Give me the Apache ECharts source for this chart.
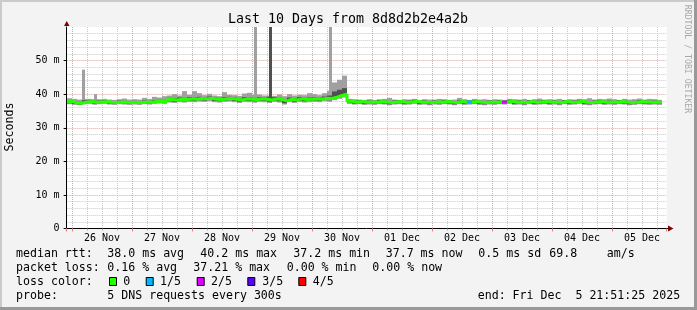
<!DOCTYPE html>
<html><head><meta charset="utf-8">
<script src="https://cdn.jsdelivr.net/npm/echarts@6/dist/echarts.min.js"></script>
<style>html,body{margin:0;padding:0;background:#f3f3f3}#c{width:697px;height:310px}</style>
</head><body><div id="c"></div>
<script>
// ---- axes (hours from 26 Nov 00:00) ----
const xStartHour = -2.15;   // Nov 25 21:51
const xEndHour = 237.85;    // Dec 5 21:51
const binStartHour = -2;    // first data bin (2 h bins)
const binHours = 2;
const dayLabels = ['26 Nov','27 Nov','28 Nov','29 Nov','30 Nov','01 Dec','02 Dec','03 Dec','04 Dec','05 Dec'];
const yMax = 60;
const yLabelStep = 10;

// ---- median rtt (ms), one value per 2 h bin ----
const median = [
  37.8,
  37.4,37.3,37.7,37.8,37.6,37.7,37.8,37.6,37.5,37.7,37.6,37.5,
  37.6,37.5,37.7,37.6,37.8,37.9,37.8,38.4,38.3,38.5,38.4,38.6,
  38.5,38.7,38.6,38.8,38.5,38.4,38.6,38.7,38.5,38.3,38.6,38.5,
  38.4,38.6,38.5,38.3,38.6,38.4,38.0,38.5,38.3,38.6,38.4,38.5,
  38.6,38.5,38.8,38.7,39.1,39.6,40.0,37.9,37.7,37.8,37.6,37.7,
  37.6,37.8,37.7,37.5,37.7,37.8,37.6,37.7,37.9,37.6,37.7,37.5,
  37.7,37.6,37.8,37.7,37.5,37.8,37.6,37.7,37.8,37.6,37.5,37.7,
  37.6,37.8,37.7,37.9,37.6,37.7,37.5,37.8,37.6,37.7,37.8,37.6,
  37.7,37.5,37.8,37.6,37.7,37.9,37.6,37.5,37.7,37.8,37.6,37.7,
  37.6,37.8,37.7,37.5,37.6,37.8,37.7,37.6,37.7,37.6
];
// ---- smoke: min of pings ----
const smokeLo = [
  37.0,
  36.9,36.8,37.0,37.1,36.9,37.0,37.1,36.9,36.8,37.0,36.9,36.8,
  36.9,36.8,37.0,36.9,37.1,37.2,37.1,37.5,37.4,37.6,37.5,37.7,
  37.6,37.8,37.7,37.9,37.6,37.5,37.7,37.8,37.6,37.4,37.7,37.6,
  37.5,37.7,37.6,37.4,37.7,37.5,36.9,37.6,37.4,37.7,37.5,37.6,
  37.7,37.6,37.9,37.8,38.2,38.6,39.0,37.1,36.9,37.0,36.8,36.9,
  36.8,37.0,36.9,36.7,36.9,37.0,36.8,36.9,37.1,36.8,36.9,36.7,
  36.9,36.8,37.0,36.9,36.7,37.0,36.8,36.9,37.0,36.8,36.7,36.9,
  36.8,37.0,36.9,37.1,36.8,36.9,36.7,37.0,36.8,36.9,37.0,36.8,
  36.9,36.7,37.0,36.8,36.9,37.1,36.8,36.7,36.9,37.0,36.8,36.9,
  36.8,37.0,36.9,36.7,36.8,37.0,36.9,36.8,36.9,36.8
];
// ---- smoke: 2nd lowest ping ----
const smokeInnerLo = [
  37.3,
  37.0,36.9,37.3,37.4,37.2,37.3,37.4,37.2,37.1,37.3,37.2,37.1,
  37.2,37.1,37.3,37.2,37.4,37.5,37.4,37.9,37.8,38.0,37.9,38.1,
  38.0,38.2,38.1,38.3,38.0,37.9,38.1,38.2,38.0,37.8,38.1,38.0,
  37.9,38.1,38.0,37.8,38.1,37.9,37.3,38.0,37.8,38.1,37.9,38.0,
  38.1,38.0,38.3,38.2,38.6,39.1,39.5,37.4,37.2,37.3,37.1,37.2,
  37.1,37.3,37.2,37.0,37.2,37.3,37.1,37.2,37.4,37.1,37.2,37.0,
  37.2,37.1,37.3,37.2,37.0,37.3,37.1,37.2,37.3,37.1,37.0,37.2,
  37.1,37.3,37.2,37.4,37.1,37.2,37.0,37.3,37.1,37.2,37.3,37.1,
  37.2,37.0,37.3,37.1,37.2,37.4,37.1,37.0,37.2,37.3,37.1,37.2,
  37.1,37.3,37.2,37.0,37.1,37.3,37.2,37.1,37.2,37.1
];
// ---- smoke: 2nd highest ping ----
const smokeInnerHi = [
  38.2,
  37.8,37.7,38.2,38.2,38.1,38.1,38.2,38.0,37.9,38.1,38.0,37.9,
  38.0,37.9,38.1,38.0,38.2,38.3,38.3,38.9,38.8,39.0,38.9,39.1,
  39.0,39.2,39.1,39.3,39.0,38.9,39.1,39.2,39.0,38.8,39.1,39.0,
  38.9,39.1,39.0,39.2,39.1,38.9,38.5,39.0,38.8,39.1,38.9,39.0,
  39.1,39.0,39.3,39.6,40.8,41.3,41.8,38.3,38.1,38.2,38.0,38.1,
  38.0,38.2,38.1,37.9,38.1,38.2,38.0,38.1,38.3,38.0,38.1,37.9,
  38.1,38.0,38.2,38.1,37.9,38.2,38.0,38.1,38.2,38.0,37.9,38.1,
  38.0,38.2,38.1,38.3,38.0,38.1,37.9,38.2,38.0,38.1,38.2,38.0,
  38.1,37.9,38.2,38.0,38.1,38.3,38.0,37.9,38.1,38.2,38.0,38.1,
  38.0,38.2,38.1,37.9,38.0,38.2,38.1,38.0,38.1,38.0
];
// ---- smoke: max of pings ----
const smokeHi = [
  38.8,
  38.6,38.4,38.6,38.6,38.5,38.5,38.6,38.4,38.3,38.5,38.7,38.4,
  38.5,38.4,38.9,38.6,39.2,39.0,39.4,39.6,40.0,39.6,40.9,39.8,
  40.9,40.3,39.7,40.1,39.6,39.4,40.6,39.8,39.7,39.5,40.2,40.4,
  39.8,39.9,39.6,39.6,39.5,39.9,39.4,40.0,39.6,39.8,39.7,40.3,
  40.0,39.7,40.3,41.0,43.5,44.3,45.5,38.6,38.5,38.4,38.3,38.5,
  38.3,38.5,38.6,38.9,38.4,38.3,38.5,38.4,38.6,38.3,38.5,38.4,
  38.4,38.6,38.5,38.3,38.4,38.9,38.5,38.3,38.6,38.4,38.5,38.3,
  38.5,38.4,38.3,38.6,38.5,38.4,38.6,38.3,38.5,38.7,38.4,38.5,
  38.4,38.6,38.3,38.5,38.4,38.6,38.5,38.8,38.4,38.6,38.5,38.7,
  38.5,38.3,38.6,38.4,38.5,38.7,38.4,38.6,38.5,38.3
];
// ---- short spikes (hour start, top of max ping, top of 2nd highest ping or null) ----
const spikeStartHour = [4, 8.8, 72.8, 78.8, 102.8];
const spikeHours = 1.2;
const spikeTop = [47.3, 40.0, 75, 75, 75];
const spikeInnerTop = [null, null, null, 75, null];

// ---- bins with packet loss (bin index, lost pings of 5) ----
const lossBins = [80, 87];
const lossCounts = [1, 2];

// ---- legend ----
const lossLegendLabels = ['0','1/5','2/5','3/5','4/5'];
const lossLegendColors = ['#26ff00','#00b8ff','#dd00ff','#5e00ff','#ff0000'];
const titleText = 'Last 10 Days from 8d8d2b2e4a2b';
const yName = 'Seconds';
const credit = 'RRDTOOL / TOBI OETIKER';
const rttLine = [['median rtt:',16],['38.0 ms avg',107.3],['40.2 ms max',200.3],['37.2 ms min',293.3],['37.7 ms now',385.7],['0.5 ms sd',478.3],['69.8',549.3],['am/s',606.7]];
const lossLine = [['packet loss:',16],['0.16 % avg',107.3],['37.21 % max',193.3],['0.00 % min',286.7],['0.00 % now',372.3]];
const probeLine = [['probe:',16],['5 DNS requests every 300s',107.3],['end: Fri Dec  5 21:51:25 2025',477.7]];

// ---------- build ----------
function stepData(arr){
  const d = arr.map((v,i)=>[binStartHour + i*binHours, v]);
  d.push([binStartHour + arr.length*binHours, arr[arr.length-1]]);
  return d;
}
const smokeData = smokeLo.map((lo,i)=>[binStartHour + i*binHours, binStartHour + (i+1)*binHours, lo, smokeInnerLo[i], smokeInnerHi[i], smokeHi[i]]);
spikeStartHour.forEach((t,k)=>{
  const b = Math.floor((t - binStartHour)/binHours);
  const ih = spikeInnerTop[k] == null ? smokeInnerHi[b] : spikeInnerTop[k];
  smokeData.push([t, t + spikeHours, smokeLo[b], smokeInnerLo[b], ih, spikeTop[k]]);
});

const MONO = '"DejaVu Sans Mono", monospace';
const SMOKE_OUTER = '#a0a0a0', SMOKE_INNER = '#505050';
function renderSmoke(params, api){
  const cs = params.coordSys;
  const clipR = {x:cs.x, y:cs.y, width:cs.width, height:cs.height};
  const t0 = api.value(0), t1 = api.value(1);
  function band(a, b, color){
    const p0 = api.coord([t0, b]), p1 = api.coord([t1, a]);
    const r = echarts.graphic.clipRectByRect({x:p0[0], y:p0[1], width:p1[0]-p0[0], height:p1[1]-p0[1]}, clipR);
    return r ? {type:'rect', shape:r, style:{fill:color}} : null;
  }
  const kids = [band(api.value(2), api.value(5), SMOKE_OUTER), band(api.value(3), api.value(4), SMOKE_INNER)].filter(Boolean);
  return {type:'group', children:kids};
}
const series = [
  {type:'custom', data:smokeData, renderItem:renderSmoke, encode:{x:[0,1], y:[2,5]}, z:3, silent:true, animation:false},
  {type:'line', step:'end', data: stepData(median), showSymbol:false, symbol:'none',
   lineStyle:{color:lossLegendColors[0], width:3}, z:5, animation:false, silent:true}
];
lossBins.forEach((b,k)=>{
  const t = binStartHour + b*binHours;
  series.push({type:'line', data:[[t, median[b]],[t+binHours, median[b]]], showSymbol:false, symbol:'none',
    lineStyle:{color:lossLegendColors[lossCounts[k]], width:3}, z:6, animation:false, silent:true});
});

const minorGrid = {show:true, lineStyle:{color:'#c8c8c8', width:1, type:[1,1]}, showMinLine:false, showMaxLine:false};
const majorGrid = {show:true, lineStyle:{color:'#e9a0a0', width:1, type:[1,1]}, showMinLine:false, showMaxLine:false};

const graphic = [
  {type:'rect', shape:{x:0,y:0,width:697,height:2}, style:{fill:'#cbcbcb'}, z:-9},
  {type:'rect', shape:{x:0,y:0,width:2,height:310}, style:{fill:'#cbcbcb'}, z:-9},
  {type:'rect', shape:{x:0,y:307,width:697,height:3}, style:{fill:'#999999'}, z:-9},
  {type:'rect', shape:{x:694,y:0,width:3,height:310}, style:{fill:'#999999'}, z:-9},
  {type:'polygon', shape:{points:[[64,26],[69.5,26],[66.75,21]]}, style:{fill:'#800000'}, z:20},
  {type:'polygon', shape:{points:[[668,225.5],[668,231.5],[673.5,228.5]]}, style:{fill:'#800000'}, z:20},
  {type:'line', shape:{x1:666.5,y1:228.5,x2:668,y2:228.5}, style:{stroke:'#000',lineWidth:1}, z:20},
  {type:'text', style:{text:titleText, x:348, y:19.5, font:'13.3px '+MONO, fill:'#000', align:'center', verticalAlign:'middle', textAlign:'center', textVerticalAlign:'middle'}},
  {type:'text', rotation:Math.PI/2, x:10, y:127, style:{text:yName, x:0, y:0, font:'11.6px '+MONO, fill:'#000', align:'center', verticalAlign:'middle', textAlign:'center', textVerticalAlign:'middle'}},
  {type:'text', rotation:-Math.PI/2, x:687.5, y:59, style:{text:credit, x:0, y:0, font:'8.2px '+MONO, fill:'#a8a8a8', align:'center', verticalAlign:'middle', textAlign:'center', textVerticalAlign:'middle'}}
];
function addLine(items, y){
  items.forEach(([t,x])=>graphic.push({type:'text', style:{text:t, x:x, y:y, font:'11.6px '+MONO, fill:'#000', align:'left', verticalAlign:'middle', textAlign:'left', textVerticalAlign:'middle'}}));
}
addLine(rttLine, 254.3);
addLine(lossLine, 268.3);
addLine([['loss color:',16]], 282.3);
addLine(probeLine, 296.2);
const boxX = [109, 145.7, 196.7, 247.3, 298.3];
const lblX = [123.3, 160, 211, 262.3, 312.7];
lossLegendLabels.forEach((l,i)=>{
  graphic.push({type:'rect', shape:{x:boxX[i]+0.5, y:277.5, width:7, height:8}, style:{fill:lossLegendColors[i], stroke:'#000', lineWidth:1}});
  graphic.push({type:'text', style:{text:l, x:lblX[i], y:282.3, font:'11.6px '+MONO, fill:'#000', align:'left', verticalAlign:'middle', textAlign:'left', textVerticalAlign:'middle'}});
});

const chart = echarts.init(document.getElementById('c'), null, {renderer:'canvas'});
chart.setOption({
  animation:false,
  backgroundColor:'#f3f3f3',
  grid:{left:66.625, top:27, width:600, height:201.5, backgroundColor:'#ffffff', show:true, borderWidth:0},
  xAxis:[
    {type:'value', position:'bottom', min:xStartHour, max:xEndHour, minInterval:6, maxInterval:6, splitNumber:40,
     axisLine:{show:true, onZero:false, lineStyle:{color:'#000', width:1}},
     axisTick:{show:true, length:2, lineStyle:{color:'#b0b0b0'}},
     axisLabel:{show:false}, splitLine:minorGrid, z:1},
    {type:'value', position:'bottom', min:xStartHour, max:xEndHour, minInterval:24, maxInterval:24, splitNumber:10,
     axisLine:{show:false}, axisTick:{show:true, length:3, lineStyle:{color:'#e08080'}},
     axisLabel:{show:false}, splitLine:majorGrid, z:2},
    {type:'value', position:'bottom', min:xStartHour-12, max:xEndHour-12, minInterval:24, maxInterval:24, splitNumber:10,
     axisLine:{show:false}, axisTick:{show:false}, splitLine:{show:false},
     axisLabel:{show:true, margin:5, fontFamily:MONO, fontSize:10, color:'#000', showMinLabel:false, showMaxLabel:false,
       formatter:(v)=>{const i=Math.round(v/24); return (Math.abs(v-i*24)<1e-6 && dayLabels[i]) ? dayLabels[i] : '';}}}
  ],
  yAxis:[{type:'value', min:0, max:yMax, interval:yLabelStep,
    axisLine:{show:true, onZero:false, lineStyle:{color:'#000', width:1}},
    axisTick:{show:true, length:3, lineStyle:{color:'#000'}},
    minorTick:{show:false, splitNumber:5},
    minorSplitLine:{show:true, lineStyle:{color:'#c8c8c8', width:1, type:[1,1]}},
    splitLine:majorGrid,
    axisLabel:{margin:7, fontFamily:MONO, fontSize:10, color:'#000', showMaxLabel:false,
      formatter:(v)=> v===0 ? '0' : v + ' m'}
  }],
  series: series,
  graphic: graphic
});
</script></body></html>
